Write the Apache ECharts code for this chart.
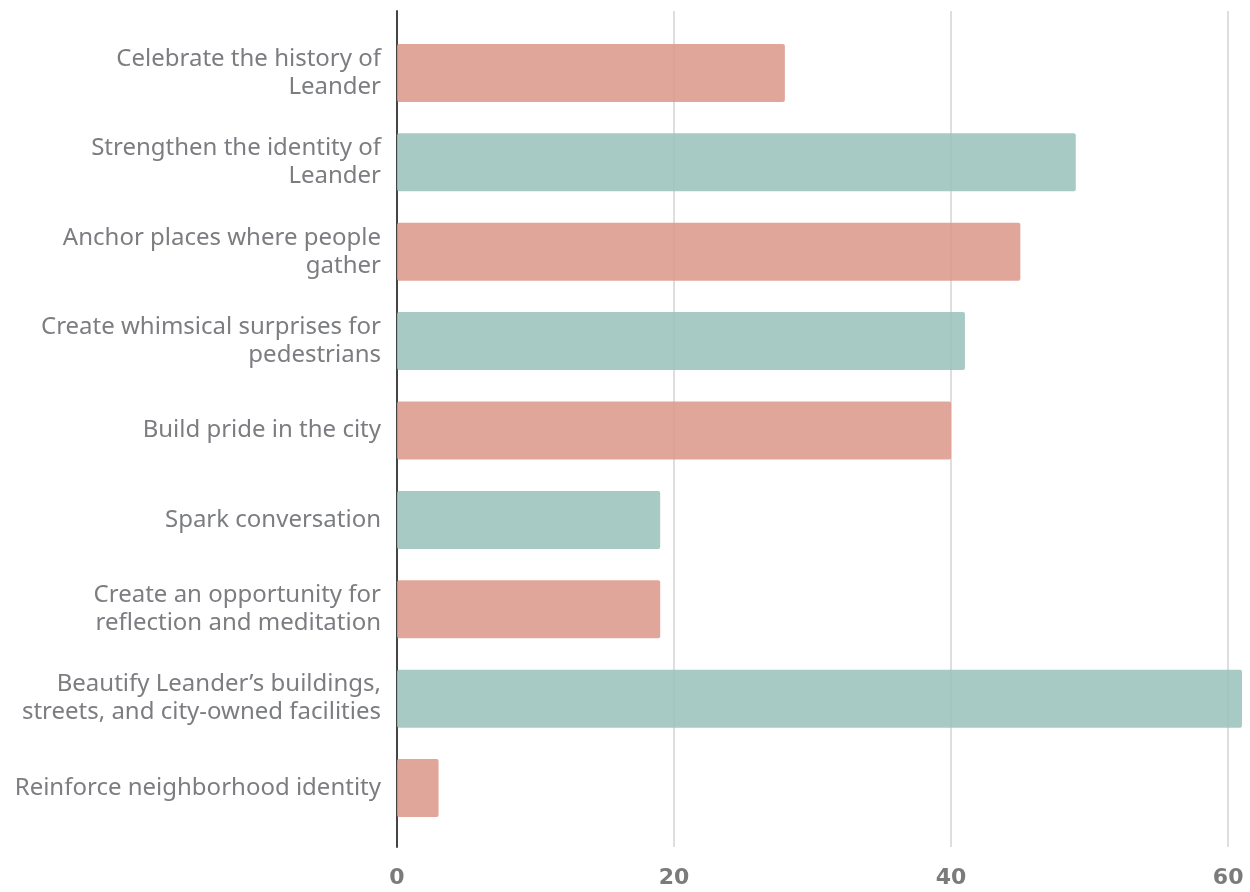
<!DOCTYPE html>
<html>
<head>
<meta charset="utf-8">
<script src="https://cdn.jsdelivr.net/npm/echarts@6/dist/echarts.min.js"></script>
<style>
html,body{margin:0;padding:0;background:#fff;}
#chart{width:1250px;height:892px;}
</style>
</head>
<body>
<div id="chart"></div>
<script>
const categories = [
  "Celebrate the history of\nLeander",
  "Strengthen the identity of\nLeander",
  "Anchor places where people\ngather",
  "Create whimsical surprises for\npedestrians",
  "Build pride in the city",
  "Spark conversation",
  "Create an opportunity for\nreflection and meditation",
  "Beautify Leander\u2019s buildings,\nstreets, and city-owned facilities",
  "Reinforce neighborhood identity"
];
const values = [28, 49, 45, 41, 40, 19, 19, 61, 3];
const tickValues = [0, 20, 40, 60];

const barColors = ['#dc9a8c', '#9cc3bc'];
const axisMax = 61;

const chart = echarts.init(document.getElementById('chart'), null, {renderer: 'canvas'});
chart.setOption({
  animation: false,
  backgroundColor: '#ffffff',
  grid: [
    {left: 397, right: 8, top: 28.3, bottom: 59.3},
    {left: 397, right: 8, top: 11, bottom: 45}
  ],
  xAxis: [
    {gridIndex: 0, type: 'value', min: 0, max: axisMax, show: false},
    {
      gridIndex: 1, type: 'value', min: 0, max: axisMax, interval: 20,
      axisLine: {show: false}, axisTick: {show: false},
      splitLine: {show: true, showMaxLine: false, lineStyle: {color: '#dedede', width: 2}},
      axisLabel: {
        showMaxLabel: false, margin: 20,
        color: '#7b7b7b', fontFamily: 'DejaVu Sans', fontWeight: 'bold', fontSize: 22,
        formatter: function (v) { return tickValues.indexOf(v) >= 0 ? String(v) : ''; }
      }
    }
  ],
  yAxis: [
    {
      gridIndex: 0, type: 'category', data: categories, inverse: true,
      axisLine: {show: false}, axisTick: {show: false}, splitLine: {show: false},
      axisLabel: {
        margin: 16, color: '#7c7d81', fontFamily: 'Noto Sans', fontSize: 24,
        lineHeight: 28, align: 'right'
      }
    },
    {
      gridIndex: 1, type: 'value', min: 0, max: 1,
      axisLine: {show: true, lineStyle: {color: '#444444', width: 2}},
      axisTick: {show: false}, axisLabel: {show: false}, splitLine: {show: false}
    }
  ],
  series: [{
    type: 'bar',
    xAxisIndex: 0, yAxisIndex: 0,
    barWidth: 58,
    data: values.map(function (v, i) {
      return {value: v, itemStyle: {color: barColors[i % 2]}};
    }),
    itemStyle: {opacity: 0.88, borderRadius: 2}
  }]
});
</script>
</body>
</html>
